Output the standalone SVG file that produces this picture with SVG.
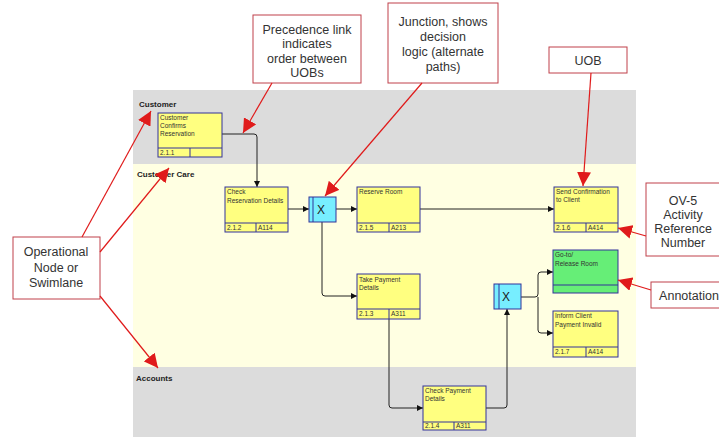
<svg xmlns="http://www.w3.org/2000/svg" width="719" height="438" viewBox="0 0 719 438">
<defs>
<style>
.lane-g{fill:#dcdcdc}
.lane-y{fill:#ffffe2}
.lanelbl{font-family:"Liberation Sans",Arial,sans-serif;font-size:8px;font-weight:bold;fill:#222}
.box{fill:#ffff80;stroke:#333399;stroke-width:1}
.boxg{fill:#66ee77;stroke:#333399;stroke-width:1}
.div{stroke:#333399;stroke-width:1;fill:none}
.nt{font-family:"Liberation Sans",Arial,sans-serif;font-size:6.5px;fill:#333}
.jn{fill:#77eeff;stroke:#333399;stroke-width:1}
.jt{font-family:"Liberation Sans",Arial,sans-serif;font-size:12px;fill:#222}
.conn{fill:none;stroke:#222;stroke-width:1}
.call{fill:#fff;stroke:#c0404a;stroke-width:1}
.ct{font-family:"Liberation Sans",Arial,sans-serif;font-size:12.5px;fill:#333;text-anchor:middle}
.cl{stroke:#e01b1b;stroke-width:1.2;fill:none}
</style>
<marker id="ah" viewBox="0 0 10 10" refX="10" refY="5" markerWidth="6" markerHeight="6" orient="auto" markerUnits="userSpaceOnUse">
<path d="M0,0 L10,5 L0,10 z" fill="#111"/>
</marker>
<marker id="rh" viewBox="0 0 10 10" refX="10" refY="5" markerWidth="14" markerHeight="14" orient="auto" markerUnits="userSpaceOnUse">
<path d="M0,0 L10,5 L0,10 z" fill="#e01b1b"/>
</marker>
</defs>
<rect width="719" height="438" fill="#fff"/>

<g id="lanes">
<rect class="lane-g" x="133" y="90" width="503" height="74"/>
<rect class="lane-y" x="133" y="164" width="503" height="203"/>
<rect class="lane-g" x="133" y="367" width="503" height="70"/>
<text class="lanelbl" x="139" y="107">Customer</text>
<text class="lanelbl" x="137" y="177">Customer Care</text>
<text class="lanelbl" x="136" y="381">Accounts</text>
</g>

<g id="connectors">
<path class="conn" d="M222,134 H254 Q257,134 257,137 V187" marker-end="url(#ah)"/>
<path class="conn" d="M288,209 H309" marker-end="url(#ah)"/>
<path class="conn" d="M336,209 H357" marker-end="url(#ah)"/>
<path class="conn" d="M420,209 H554" marker-end="url(#ah)"/>
<path class="conn" d="M322,222 V293 Q322,296 325,296 H357" marker-end="url(#ah)"/>
<path class="conn" d="M389,319 V405 Q389,408 392,408 H423" marker-end="url(#ah)"/>
<path class="conn" d="M486,408 H504 Q507,408 507,405 V309" marker-end="url(#ah)"/>
<path class="conn" d="M521,297 H535 Q538,297 538,294 V275 Q538,272 541,272 H553" marker-end="url(#ah)"/>
<path class="conn" d="M538,297 V330 Q538,333 541,333 H553" marker-end="url(#ah)"/>
<circle cx="333" cy="209" r="1.6" fill="#1a1aa0"/>
<circle cx="518" cy="297" r="1.6" fill="#1a1aa0"/>
</g>

<g id="n211">
<rect class="box" x="158" y="113" width="64" height="44"/>
<path class="div" d="M158,148 H222 M190,148 V157"/>
<text class="nt" x="160" y="120">Customer</text>
<text class="nt" x="160" y="128">Confirms</text>
<text class="nt" x="160" y="136">Reservation</text>
<text class="nt" x="160" y="155">2.1.1</text>
</g>

<g id="n212">
<rect class="box" x="225" y="187" width="63" height="45"/>
<path class="div" d="M225,223 H288 M256,223 V232"/>
<text class="nt" x="227" y="194">Check</text>
<text class="nt" x="227" y="203">Reservation Details</text>
<text class="nt" x="227" y="230">2.1.2</text>
<text class="nt" x="258" y="230">A114</text>
</g>

<g id="j1">
<rect class="jn" x="309" y="197" width="27" height="25"/>
<path class="div" d="M313,197 V222"/>
<text class="jt" x="317" y="214">X</text>
</g>

<g id="n215">
<rect class="box" x="357" y="187" width="63" height="45"/>
<path class="div" d="M357,223 H420 M389,223 V232"/>
<text class="nt" x="359" y="194">Reserve Room</text>
<text class="nt" x="359" y="230">2.1.5</text>
<text class="nt" x="391" y="230">A213</text>
</g>

<g id="n216">
<rect class="box" x="554" y="187" width="64" height="45"/>
<path class="div" d="M554,223 H618 M586,223 V232"/>
<text class="nt" x="556" y="194">Send Confirmation</text>
<text class="nt" x="556" y="202">to Client</text>
<text class="nt" x="556" y="230">2.1.6</text>
<text class="nt" x="588" y="230">A414</text>
</g>

<g id="n213">
<rect class="box" x="357" y="274" width="63" height="45"/>
<path class="div" d="M357,309 H420 M389,309 V319"/>
<text class="nt" x="359" y="282">Take Payment</text>
<text class="nt" x="359" y="290">Details</text>
<text class="nt" x="359" y="316">2.1.3</text>
<text class="nt" x="391" y="316">A311</text>
</g>

<g id="nGoTo">
<rect class="boxg" x="553" y="250" width="65" height="43"/>
<path class="div" d="M553,285 H618"/>
<text class="nt" x="555" y="257">Go-to/</text>
<text class="nt" x="555" y="266">Release Room</text>
</g>

<g id="n217">
<rect class="box" x="553" y="311" width="65" height="46"/>
<path class="div" d="M553,347 H618 M586,347 V357"/>
<text class="nt" x="555" y="318">Inform Client</text>
<text class="nt" x="555" y="327">Payment Invalid</text>
<text class="nt" x="555" y="354">2.1.7</text>
<text class="nt" x="588" y="354">A414</text>
</g>

<g id="j2">
<rect class="jn" x="494" y="284" width="27" height="25"/>
<path class="div" d="M499,284 V309"/>
<text class="jt" x="502" y="301">X</text>
</g>

<g id="n214">
<rect class="box" x="423" y="386" width="63" height="44"/>
<path class="div" d="M423,422 H486 M454,422 V430"/>
<text class="nt" x="425" y="393">Check Payment</text>
<text class="nt" x="425" y="401">Details</text>
<text class="nt" x="425" y="428">2.1.4</text>
<text class="nt" x="456" y="428">A311</text>
</g>

<g id="callouts">
<g id="c-precedence">
<rect class="call" x="253" y="15" width="108" height="68"/>
<text class="ct" x="307" y="34">Precedence link</text>
<text class="ct" x="307" y="48">indicates</text>
<text class="ct" x="307" y="63">order between</text>
<text class="ct" x="307" y="77">UOBs</text>
<path class="cl" d="M272,83 L243,133" marker-end="url(#rh)"/>
</g>
<g id="c-junction">
<rect class="call" x="388" y="3" width="110" height="80"/>
<text class="ct" x="443" y="26">Junction, shows</text>
<text class="ct" x="443" y="41">decision</text>
<text class="ct" x="443" y="56">logic (alternate</text>
<text class="ct" x="443" y="71">paths)</text>
<path class="cl" d="M422,83 L325,196" marker-end="url(#rh)"/>
</g>
<g id="c-uob">
<rect class="call" x="549" y="47" width="78" height="26"/>
<text class="ct" x="588" y="65">UOB</text>
<path class="cl" d="M591,73 L583,186" marker-end="url(#rh)"/>
</g>
<g id="c-ov5">
<rect class="call" x="646" y="183" width="80" height="73"/>
<text class="ct" x="683" y="205">OV-5</text>
<text class="ct" x="683" y="219">Activity</text>
<text class="ct" x="683" y="233">Reference</text>
<text class="ct" x="683" y="247">Number</text>
<path class="cl" d="M646,236 L618,228" marker-end="url(#rh)"/>
</g>
<g id="c-annot">
<rect class="call" x="651" y="282" width="75" height="26"/>
<text class="ct" x="689" y="300">Annotation</text>
<path class="cl" d="M651,290 L618,280" marker-end="url(#rh)"/>
</g>
<g id="c-swim">
<rect class="call" x="13" y="237" width="87" height="62"/>
<text class="ct" x="56" y="256">Operational</text>
<text class="ct" x="56" y="272">Node or</text>
<text class="ct" x="56" y="287">Swimlane</text>
<path class="cl" d="M82,237 L151,111" marker-end="url(#rh)"/>
<path class="cl" d="M100,252 L169,168" marker-end="url(#rh)"/>
<path class="cl" d="M100,296 L158,368" marker-end="url(#rh)"/>
</g>
</g>
</svg>
